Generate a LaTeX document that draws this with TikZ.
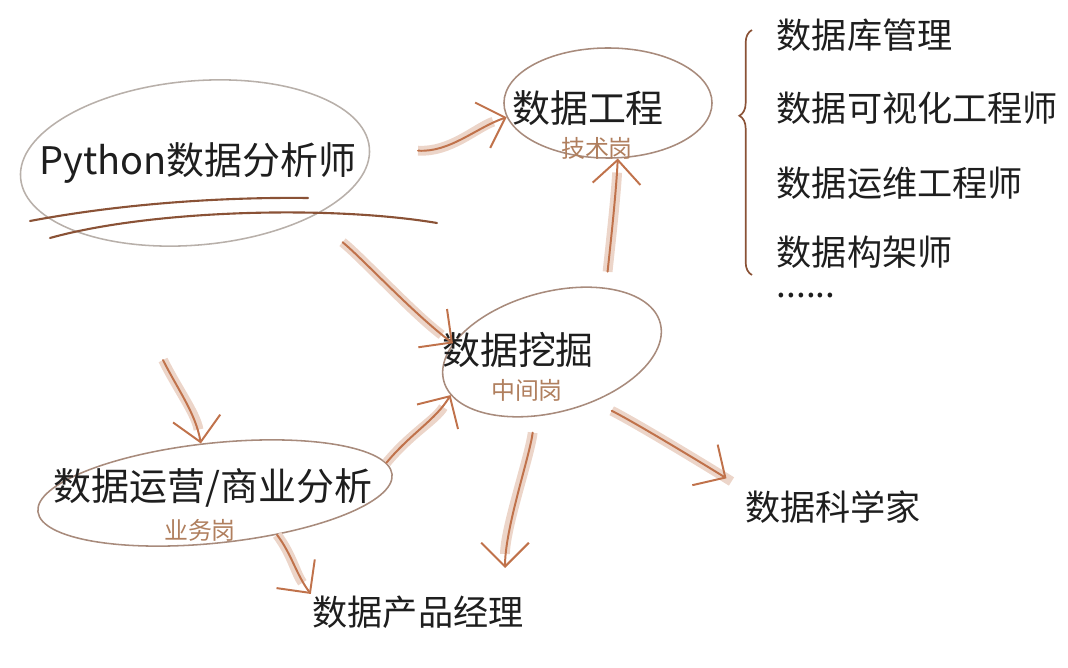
\documentclass[tikz,border=0pt]{standalone}
\usepackage{fontspec}
\newfontfamily\cjk{Noto Sans CJK SC}
\usetikzlibrary{shapes.geometric,arrows.meta,decorations.pathreplacing,positioning}

\definecolor{ink}{HTML}{1E1E1E}
\definecolor{rim}{HTML}{A88B7C}
\definecolor{rimlt}{HTML}{B8B0AA}
\definecolor{arrowc}{HTML}{C0724B}
\definecolor{subc}{HTML}{B07F5E}
\definecolor{ulinec}{HTML}{8A5236}

\tikzset{
  bubble/.style={ellipse, draw=rim, line width=1.1pt, inner sep=0pt},
  big/.style={font=\cjk\fontsize{27}{27}\selectfont, text=ink, inner sep=1pt},
  item/.style={font=\cjk\fontsize{25}{25}\selectfont, text=ink, inner sep=1pt},
  sub/.style={font=\cjk\fontsize{17}{17}\selectfont, text=subc, inner sep=1pt},
  flow/.style={draw=arrowc, line width=1.4pt, line cap=round,
    -{Straight Barb[length=17pt,width=34pt,line width=1.4pt]},
    preaction={draw=arrowc!30, line width=7pt, -, shorten >=10pt}},
  uline/.style={draw=ulinec, line width=1.5pt, line cap=round},
  brace/.style={draw=ulinec, line width=1.2pt,
    decorate, decoration={brace, amplitude=9pt, aspect=0.65}}
}

\begin{document}
\begin{tikzpicture}[x=0.025cm,y=-0.025cm]
  \useasboundingbox (0,0) rectangle (1068,668);

  \node (py) at (195,163) [bubble,draw=rimlt,minimum width=8.75cm,minimum height=4.1cm,rotate=5] {};
  \node (eng) at (608,103) [bubble,minimum width=5.2cm,minimum height=2.75cm] {};
  \node (mine) at (552,352) [bubble,minimum width=5.6cm,minimum height=3cm,rotate=15] {};
  \node (ops) at (215,493) [bubble,minimum width=8.9cm,minimum height=2.5cm,rotate=6] {};

  \node (pyt) at (198,163) [big] {Python数据分析师};
  \node (engt) at (588,108) [big] {数据工程};
  \node (engs) at (597,148) [sub] {技术岗};
  \node (minet) at (518,350) [big] {数据挖掘};
  \node (mines) at (527,390) [sub] {中间岗};
  \node (opst) at (213,488) [big] {数据运营/商业分析};
  \node (opss) at (200,530) [sub] {业务岗};
  \node (pm) at (418,612) [item] {数据产品经理};
  \node (sci) at (833,507) [item] {数据科学家};

  \node (db) at (775,35) [item,anchor=west] {数据库管理};
  \node (vis) at (775,108) [item,anchor=west] {数据可视化工程师};
  \node (opseng) at (775,183) [item,anchor=west] {数据运维工程师};
  \node (arch) at (775,252) [item,anchor=west] {数据构架师};
  \node (more) at (775,296) [item,anchor=west] {......};

  \coordinate (brtop) at (752,30);
  \coordinate (brbot) at (752,275);
  \draw[brace] (brbot) -- (brtop);

  \draw[uline] (30,221) .. controls (120,204) and (220,197) .. (308,198);
  \draw[uline] (50,238) .. controls (150,210) and (330,205) .. (437,223);

  \coordinate (opsin) at (163,360);
  \coordinate (mdown) at (505,568);

  \draw[flow,shorten <=1.2cm] (py.east) .. controls +(80,5) and +(-30,10) .. (eng.188);
  \draw[flow,shorten <=1cm] (py.-30) .. controls +(50,40) and +(-40,-30) .. (mine.160);
  \draw[flow,shorten <=4mm] (mine.35) .. controls +(3,-30) and +(-2,40) .. (eng.-80);
  \draw[flow] (opsin) .. controls +(15,30) and +(-5,-30) .. (ops.100);
  \draw[flow] (ops.4) .. controls +(25,-30) and +(-15,25) .. (mine.188);
  \draw[flow] (ops.-40) .. controls +(15,20) and +(-15,-20) .. (pm.north west);
  \draw[flow,shorten <=4mm] (mine.-120) .. controls +(-5,40) and +(0,-40) .. (mdown);
  \draw[flow,shorten <=5mm,shorten >=5mm] (mine.-65) .. controls +(40,20) and +(-40,-25) .. (sci.north west);
\end{tikzpicture}
\end{document}
